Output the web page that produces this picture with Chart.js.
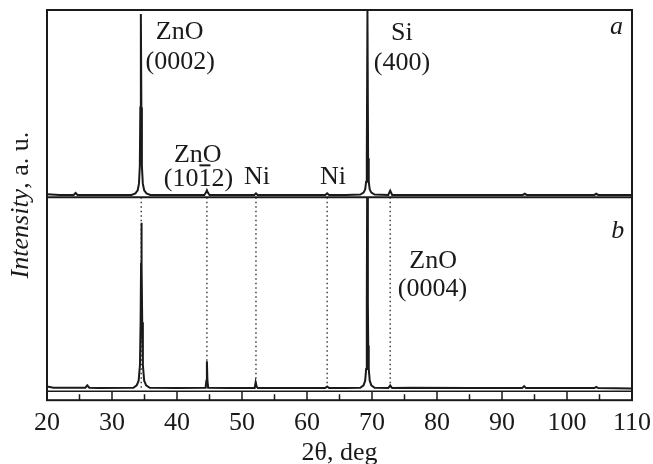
<!DOCTYPE html>
<html>
<head>
<meta charset="utf-8">
<script src="https://cdn.jsdelivr.net/npm/chart.js@4/dist/chart.umd.min.js"></script>
<style>
  body { margin: 0; background: #fff; }
  #wrap { width: 653px; height: 464px; position: relative; }
</style>
</head>
<body>
<div id="wrap"><canvas id="xrd"></canvas></div>
<script>
// Spectrum a (upper trace), 2theta in deg, intensity in plot units
const anglesA = [20, 22, 24.1, 24.4, 24.7, 27, 30, 33.0, 33.6, 33.95, 34.15, 34.28, 34.36, 34.44, 34.52, 34.6,
  34.74, 34.95, 35.3, 35.9, 40, 44.2, 44.45, 44.6, 44.75, 45.0, 48, 51.9, 52.15, 52.4, 58, 62.8, 63.1, 63.4,
  66, 68.2, 68.7, 68.95, 69.1, 69.2, 69.3, 69.4, 69.5, 69.65, 69.9, 70.4, 72.5, 72.8, 73.1, 80, 88, 93.2,
  93.5, 93.8, 100, 104.2, 104.5, 104.8, 110];
const countsA = [52.8, 52.6, 52.6, 53.1, 52.6, 52.6, 52.6, 52.6, 53.0, 53.8, 55.5, 60, 75, 99, 75, 60,
  55.5, 53.8, 53.0, 52.6, 52.6, 52.6, 53.2, 53.8, 53.2, 52.6, 52.6, 52.6, 53.0, 52.6, 52.6, 52.6, 53.0, 52.6,
  52.6, 52.7, 53.2, 54, 56, 62, 100, 62, 56, 54, 53.2, 52.7, 52.6, 53.7, 52.6, 52.6, 52.6, 52.6,
  52.9, 52.6, 52.6, 52.6, 52.9, 52.6, 52.6];

// Spectrum b (lower trace)
const anglesB = [20, 21, 23, 25.9, 26.2, 26.5, 28, 33.3, 33.8, 34.1, 34.3, 34.4, 34.47, 34.52, 34.58, 34.65,
  34.75, 34.95, 35.25, 35.8, 40, 44.4, 44.52, 44.6, 44.68, 44.8, 48, 51.95, 52.1, 52.25, 52.45, 58, 62.8, 63.1,
  63.4, 66, 68.2, 68.7, 68.95, 69.1, 69.18, 69.22, 69.25, 69.35, 69.38, 69.42, 69.5, 69.65, 69.9, 70.4, 72.5,
  72.8, 73.1, 76, 85, 93.1, 93.4, 93.7, 100, 104.2, 104.5, 104.8, 110];
const countsB = [3.5, 3.2, 3.2, 3.2, 3.8, 3.2, 3.1, 3.2, 3.8, 5, 9, 20, 35, 45.5, 35, 20,
  9, 5, 3.8, 3.2, 3.1, 3.2, 5, 10, 5, 3.2, 3.1, 3.1, 4.6, 3.5, 3.1, 3.1, 3.1, 3.5,
  3.1, 3.1, 3.2, 3.8, 5, 8, 14, 25, 52, 52, 25, 14, 8, 5, 3.8, 3.2, 3.1,
  3.8, 3.1, 3.2, 3.1, 3.1, 3.6, 3.1, 3.1, 3.1, 3.4, 3.1, 3.0];

// Reference positions (dotted lines), axis ticks
const refAngles = [34.5, 44.6, 52.15, 63.1, 72.8];
const xTicks = [20, 30, 40, 50, 60, 70, 80, 90, 100, 110];
const xMinorTicks = [25, 35, 45, 55, 65, 75, 85, 95, 105];

// Peak labels: [text, 2theta, intensity, italic]
const labels = [
  ['ZnO', 40.4, 94.3, false],
  ['(0002)', 40.5, 86.6, false],
  ['Si', 74.6, 94.1, false],
  ['(400)', 74.6, 86.4, false],
  ['a', 107.6, 95.6, true],
  ['ZnO', 43.2, 62.7, false],
  ['Ni', 52.3, 57.2, false],
  ['Ni', 64.0, 57.2, false],
  ['b', 107.8, 43.4, true],
  ['ZnO', 79.4, 35.7, false],
  ['(0004)', 79.3, 28.5, false]
];

const SERIF = '"Liberation Serif", "DejaVu Serif", serif';
const INK = '#1a1a1a';

function toPoints(xs, ys) {
  return xs.map((x, i) => ({ x: x, y: ys[i] }));
}

const refSets = refAngles.map(a => ({
  data: [{ x: a, y: 3.2 }, { x: a, y: 52 }],
  borderColor: '#333',
  borderWidth: 1.4,
  borderDash: [1.5, 3],
  pointRadius: 0,
  showLine: true
}));

const framePlugin = {
  id: 'frame',
  afterDatasetsDraw(chart) {
    const c = chart.ctx;
    const area = chart.chartArea;
    const x = chart.scales.x;
    const y = chart.scales.y;
    c.save();
    c.strokeStyle = INK;
    c.lineWidth = 2;
    c.strokeRect(area.left, area.top, area.right - area.left, area.bottom - area.top);

    // divider between the two traces
    const yd = y.getPixelForValue(52);
    c.beginPath();
    c.moveTo(area.left, yd);
    c.lineTo(area.right, yd);
    c.stroke();

    // tick strip along the bottom
    c.lineWidth = 1.5;
    c.beginPath();
    c.moveTo(area.left, area.bottom - 9);
    c.lineTo(area.right, area.bottom - 9);
    c.stroke();
    c.beginPath();
    xTicks.forEach(v => {
      const px = x.getPixelForValue(v);
      c.moveTo(px, area.bottom);
      c.lineTo(px, area.bottom - 9);
    });
    xMinorTicks.forEach(v => {
      const px = x.getPixelForValue(v);
      c.moveTo(px, area.bottom);
      c.lineTo(px, area.bottom - 6);
    });
    c.stroke();

    // peak labels
    c.fillStyle = INK;
    c.textAlign = 'center';
    c.textBaseline = 'middle';
    labels.forEach(l => {
      c.font = (l[3] ? 'italic ' : '') + '26px ' + SERIF;
      c.fillText(l[0], x.getPixelForValue(l[1]), y.getPixelForValue(l[2]));
    });

    // (10-12) with the bar over the second 1
    c.font = '26px ' + SERIF;
    const hkl = '(1012)';
    const cx = x.getPixelForValue(43.3);
    const cy = y.getPixelForValue(56.6);
    c.fillText(hkl, cx, cy);
    const left = cx - c.measureText(hkl).width / 2;
    const b0 = left + c.measureText('(10').width;
    const b1 = b0 + c.measureText('1').width;
    c.lineWidth = 2;
    c.beginPath();
    c.moveTo(b0 + 1, cy - 14);
    c.lineTo(b1 - 1, cy - 14);
    c.stroke();

    // y axis title, "Intensity" in italic
    c.translate(21, (area.top + area.bottom) / 2);
    c.rotate(-Math.PI / 2);
    c.textAlign = 'left';
    const part1 = 'Intensity';
    const part2 = ', a. u.';
    c.font = 'italic 26px ' + SERIF;
    const w1 = c.measureText(part1).width;
    c.font = '26px ' + SERIF;
    const w2 = c.measureText(part2).width;
    c.font = 'italic 26px ' + SERIF;
    c.fillText(part1, -(w1 + w2) / 2, 0);
    c.font = '26px ' + SERIF;
    c.fillText(part2, -(w1 + w2) / 2 + w1, 0);
    c.restore();
  }
};

new Chart(document.getElementById('xrd'), {
  type: 'scatter',
  data: {
    datasets: [
      {
        label: 'a',
        data: toPoints(anglesA, countsA),
        borderColor: INK,
        borderWidth: 2,
        pointRadius: 0,
        showLine: true
      },
      {
        label: 'b',
        data: toPoints(anglesB, countsB),
        borderColor: INK,
        borderWidth: 2,
        pointRadius: 0,
        showLine: true
      }
    ].concat(refSets)
  },
  options: {
    responsive: true,
    maintainAspectRatio: false,
    animation: false,
    layout: { padding: { left: 47, right: 21, top: 10, bottom: 0 } },
    plugins: {
      legend: { display: false },
      tooltip: { enabled: false }
    },
    scales: {
      x: {
        type: 'linear',
        min: 20,
        max: 110,
        afterBuildTicks: axis => { axis.ticks = xTicks.map(v => ({ value: v })); },
        afterFit: axis => { axis.paddingLeft = 0; axis.paddingRight = 0; },
        grid: { display: false, drawTicks: false },
        border: { display: false },
        ticks: {
          padding: 7,
          color: INK,
          maxRotation: 0,
          autoSkip: false,
          font: { family: SERIF, size: 26, lineHeight: 1.2 }
        },
        title: {
          display: true,
          text: '2θ, deg',
          color: INK,
          padding: { top: 0, bottom: 3 },
          font: { family: SERIF, size: 26, lineHeight: 0.6 }
        }
      },
      y: {
        display: false,
        min: 0,
        max: 100
      }
    }
  },
  plugins: [framePlugin]
});
</script>
</body>
</html>
